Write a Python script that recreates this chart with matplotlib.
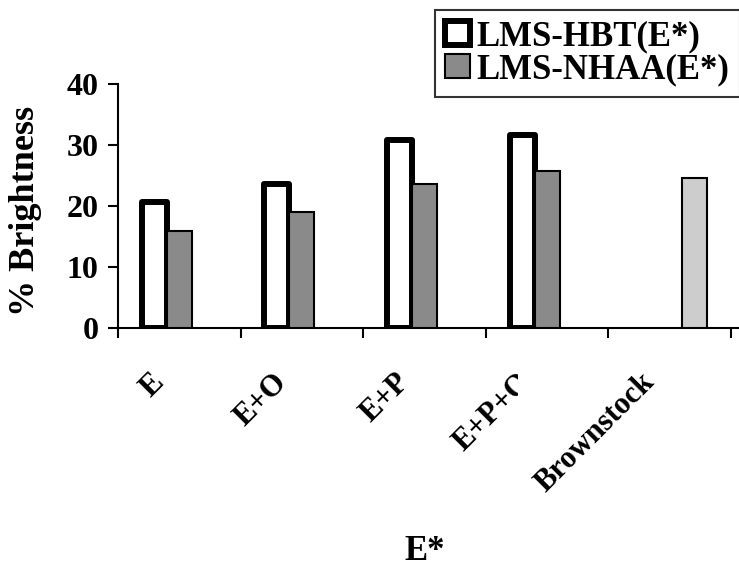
import numpy as np
import matplotlib
matplotlib.use("Agg")
import matplotlib.pyplot as plt
from matplotlib.transforms import Bbox

categories = ["E", "E+O", "E+P", "E+P+O", "Brownstock"]
hbt = [20.7, 23.65, 30.85, 31.7, np.nan]
nhaa = [15.85, 18.95, 23.65, 25.7, np.nan]
brownstock = [np.nan, np.nan, np.nan, np.nan, 24.6]
yticks = [0, 10, 20, 30, 40]

plt.rcParams["font.family"] = ["Liberation Serif", "DejaVu Serif"]
plt.rcParams["font.weight"] = "bold"

fig = plt.figure(figsize=(7.39, 5.69), dpi=100)
W, H = 739, 569
ax = fig.add_axes([118 / W, (H - 328) / H, (739 - 118) / W, (328 - 84) / H])

x = np.arange(len(categories))
w = 0.204
ax.bar(x - w, hbt, w, color="white", edgecolor="black", linewidth=4.3,
       joinstyle="round", label="LMS-HBT(E*)", zorder=2)
ax.bar(x, nhaa, w, color="#8a8a8a", edgecolor="black", linewidth=1.5,
       label="LMS-NHAA(E*)", zorder=3)
ax.bar(x + w, brownstock, w, color="#cdcdcd", edgecolor="black", linewidth=1.5,
       zorder=3)

ax.set_xlim(-0.5, 4.5 + 8 / 122.6)
ax.set_ylim(0, 40)
ax.set_yticks(yticks)
ax.set_yticklabels([str(t) for t in yticks], fontsize=23, fontweight="bold")
ax.tick_params(axis="y", length=7, width=1.5, pad=7)
ax.set_xticks([])
ax.set_xticks(np.arange(-0.5, 5, 1), minor=True)
ax.tick_params(axis="x", which="minor", length=7, width=1.5, labelbottom=False)

for s in ["top", "right"]:
    ax.spines[s].set_visible(False)
for s in ["left", "bottom"]:
    ax.spines[s].set_linewidth(1.5)

# rotated category labels, the fourth one is cut short
trans = ax.get_xaxis_transform()
for i, lab in enumerate(categories):
    t = ax.text(i - 0.16, -0.205, lab, transform=trans, rotation=45,
                rotation_mode="anchor", ha="right", va="center",
                fontsize=22, fontweight="bold", clip_on=False)
    if lab == "E+P+O":
        t.set_clip_box(Bbox([[0, 0], [518, H]]))
        t.set_clip_on(True)

fig.text(26 / W, 1 - 211 / H, "% Brightness", rotation=90, ha="center",
         va="center", fontsize=26, fontweight="bold")
fig.text(425 / W, 1 - 552 / H, "E*", ha="center", va="center",
         fontsize=25, fontweight="bold")

leg = fig.legend(loc="upper left", bbox_to_anchor=(435 / W, 1 - 10 / H),
                 fontsize=25, frameon=True, fancybox=False, borderpad=0.3,
                 handlelength=0.7, handleheight=0.7, handletextpad=0.2,
                 labelspacing=0.0, borderaxespad=0)
leg.get_frame().set_edgecolor("black")
leg.get_frame().set_linewidth(1.5)
for txt in leg.get_texts():
    txt.set_fontweight("bold")

fig.savefig("out.png", dpi=100)
